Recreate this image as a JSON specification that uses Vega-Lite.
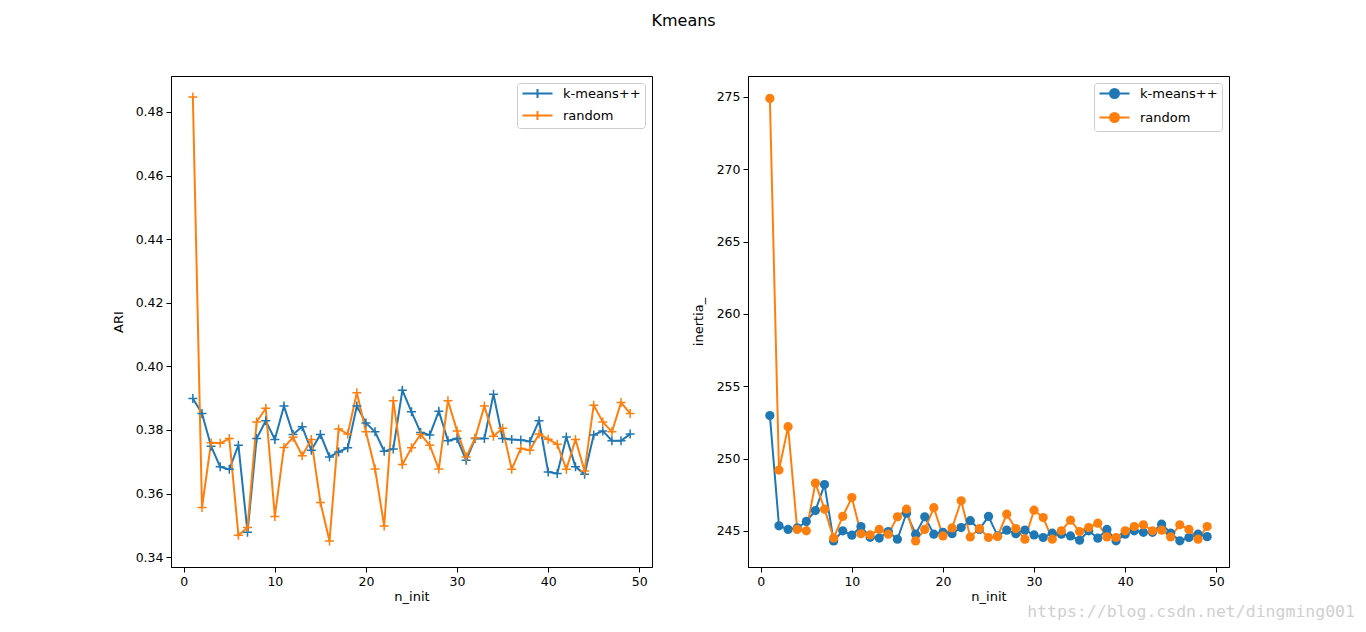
{
  "$schema": "https://vega.github.io/schema/vega-lite/v6.json",
  "title": {"text": "Kmeans", "fontSize": 16, "font": "DejaVu Sans", "fontWeight": "normal", "anchor": "middle", "offset": 47, "dx": -50, "color": "black"},
  "padding": {"left": 111, "top": 12, "right": 5, "bottom": 5},
  "spacing": 38,
  "background": "white",
  "datasets": {
    "km": [
      {"n":1,"method":"k-means++","ari":0.3899,"inertia":252.97},
      {"n":2,"method":"k-means++","ari":0.3852,"inertia":245.35},
      {"n":3,"method":"k-means++","ari":0.3749,"inertia":245.1},
      {"n":4,"method":"k-means++","ari":0.3684,"inertia":245.2},
      {"n":5,"method":"k-means++","ari":0.3676,"inertia":245.65},
      {"n":6,"method":"k-means++","ari":0.3752,"inertia":246.4},
      {"n":7,"method":"k-means++","ari":0.3478,"inertia":248.2},
      {"n":8,"method":"k-means++","ari":0.3773,"inertia":244.3},
      {"n":9,"method":"k-means++","ari":0.3829,"inertia":245.0},
      {"n":10,"method":"k-means++","ari":0.3770,"inertia":244.7},
      {"n":11,"method":"k-means++","ari":0.3875,"inertia":245.3},
      {"n":12,"method":"k-means++","ari":0.3786,"inertia":244.55},
      {"n":13,"method":"k-means++","ari":0.3810,"inertia":244.5},
      {"n":14,"method":"k-means++","ari":0.3736,"inertia":244.95},
      {"n":15,"method":"k-means++","ari":0.3786,"inertia":244.42},
      {"n":16,"method":"k-means++","ari":0.3715,"inertia":246.22},
      {"n":17,"method":"k-means++","ari":0.3731,"inertia":244.77},
      {"n":18,"method":"k-means++","ari":0.3744,"inertia":245.97},
      {"n":19,"method":"k-means++","ari":0.3875,"inertia":244.77},
      {"n":20,"method":"k-means++","ari":0.3822,"inertia":244.9},
      {"n":21,"method":"k-means++","ari":0.3794,"inertia":244.8},
      {"n":22,"method":"k-means++","ari":0.3733,"inertia":245.23},
      {"n":23,"method":"k-means++","ari":0.3740,"inertia":245.7},
      {"n":24,"method":"k-means++","ari":0.3925,"inertia":245.1},
      {"n":25,"method":"k-means++","ari":0.3857,"inertia":246.0},
      {"n":26,"method":"k-means++","ari":0.3792,"inertia":244.65},
      {"n":27,"method":"k-means++","ari":0.3784,"inertia":245.05},
      {"n":28,"method":"k-means++","ari":0.3859,"inertia":244.8},
      {"n":29,"method":"k-means++","ari":0.3766,"inertia":245.05},
      {"n":30,"method":"k-means++","ari":0.3773,"inertia":244.72},
      {"n":31,"method":"k-means++","ari":0.3705,"inertia":244.54},
      {"n":32,"method":"k-means++","ari":0.3773,"inertia":244.84},
      {"n":33,"method":"k-means++","ari":0.3773,"inertia":244.77},
      {"n":34,"method":"k-means++","ari":0.3912,"inertia":244.65},
      {"n":35,"method":"k-means++","ari":0.3773,"inertia":244.35},
      {"n":36,"method":"k-means++","ari":0.3770,"inertia":245.0},
      {"n":37,"method":"k-means++","ari":0.3768,"inertia":244.49},
      {"n":38,"method":"k-means++","ari":0.3764,"inertia":245.1},
      {"n":39,"method":"k-means++","ari":0.3829,"inertia":244.31},
      {"n":40,"method":"k-means++","ari":0.3668,"inertia":244.77},
      {"n":41,"method":"k-means++","ari":0.3663,"inertia":245.0},
      {"n":42,"method":"k-means++","ari":0.3778,"inertia":244.9},
      {"n":43,"method":"k-means++","ari":0.3684,"inertia":244.9},
      {"n":44,"method":"k-means++","ari":0.3661,"inertia":245.46},
      {"n":45,"method":"k-means++","ari":0.3784,"inertia":244.85},
      {"n":46,"method":"k-means++","ari":0.3797,"inertia":244.31},
      {"n":47,"method":"k-means++","ari":0.3766,"inertia":244.54},
      {"n":48,"method":"k-means++","ari":0.3766,"inertia":244.77},
      {"n":49,"method":"k-means++","ari":0.3787,"inertia":244.6},
      {"n":1,"method":"random","ari":0.4847,"inertia":274.9},
      {"n":2,"method":"random","ari":0.3556,"inertia":249.2},
      {"n":3,"method":"random","ari":0.3760,"inertia":252.2},
      {"n":4,"method":"random","ari":0.3758,"inertia":245.1},
      {"n":5,"method":"random","ari":0.3773,"inertia":245.0},
      {"n":6,"method":"random","ari":0.3469,"inertia":248.3},
      {"n":7,"method":"random","ari":0.3493,"inertia":246.5},
      {"n":8,"method":"random","ari":0.3825,"inertia":244.5},
      {"n":9,"method":"random","ari":0.3868,"inertia":246.0},
      {"n":10,"method":"random","ari":0.3528,"inertia":247.3},
      {"n":11,"method":"random","ari":0.3745,"inertia":244.8},
      {"n":12,"method":"random","ari":0.3777,"inertia":244.72},
      {"n":13,"method":"random","ari":0.3719,"inertia":245.1},
      {"n":14,"method":"random","ari":0.3770,"inertia":244.77},
      {"n":15,"method":"random","ari":0.3572,"inertia":245.97},
      {"n":16,"method":"random","ari":0.3451,"inertia":246.5},
      {"n":17,"method":"random","ari":0.3803,"inertia":244.3},
      {"n":18,"method":"random","ari":0.3787,"inertia":245.1},
      {"n":19,"method":"random","ari":0.3917,"inertia":246.6},
      {"n":20,"method":"random","ari":0.3794,"inertia":244.65},
      {"n":21,"method":"random","ari":0.3677,"inertia":245.2},
      {"n":22,"method":"random","ari":0.3498,"inertia":247.08},
      {"n":23,"method":"random","ari":0.3892,"inertia":244.58},
      {"n":24,"method":"random","ari":0.3691,"inertia":245.16},
      {"n":25,"method":"random","ari":0.3744,"inertia":244.54},
      {"n":26,"method":"random","ari":0.3786,"inertia":244.61},
      {"n":27,"method":"random","ari":0.3752,"inertia":246.15},
      {"n":28,"method":"random","ari":0.3677,"inertia":245.16},
      {"n":29,"method":"random","ari":0.3892,"inertia":244.42},
      {"n":30,"method":"random","ari":0.3797,"inertia":246.43},
      {"n":31,"method":"random","ari":0.3715,"inertia":245.92},
      {"n":32,"method":"random","ari":0.3775,"inertia":244.42},
      {"n":33,"method":"random","ari":0.3875,"inertia":245.0},
      {"n":34,"method":"random","ari":0.3780,"inertia":245.74},
      {"n":35,"method":"random","ari":0.3805,"inertia":244.95},
      {"n":36,"method":"random","ari":0.3676,"inertia":245.23},
      {"n":37,"method":"random","ari":0.3742,"inertia":245.53},
      {"n":38,"method":"random","ari":0.3736,"inertia":244.58},
      {"n":39,"method":"random","ari":0.3787,"inertia":244.54},
      {"n":40,"method":"random","ari":0.3771,"inertia":245.0},
      {"n":41,"method":"random","ari":0.3755,"inertia":245.3},
      {"n":42,"method":"random","ari":0.3676,"inertia":245.42},
      {"n":43,"method":"random","ari":0.3770,"inertia":245.0},
      {"n":44,"method":"random","ari":0.3671,"inertia":245.05},
      {"n":45,"method":"random","ari":0.3878,"inertia":244.58},
      {"n":46,"method":"random","ari":0.3825,"inertia":245.42},
      {"n":47,"method":"random","ari":0.3794,"inertia":245.1},
      {"n":48,"method":"random","ari":0.3886,"inertia":244.42},
      {"n":49,"method":"random","ari":0.3852,"inertia":245.3}
    ]
  },
  "resolve": {"scale": {"color": "independent"}, "legend": {"color": "independent"}},
  "hconcat": [
    {
      "width": 481,
      "height": 491,
      "data": {"name": "km"},
      "encoding": {
        "x": {"field": "n", "type": "quantitative", "scale": {"domain": [-1.4, 51.4], "nice": false, "zero": false}, "axis": {"values": [0, 10, 20, 30, 40, 50], "title": "n_init", "titlePadding": 3}},
        "y": {"field": "ari", "type": "quantitative", "scale": {"domain": [0.3369, 0.4913], "nice": false, "zero": false}, "axis": {"values": [0.34, 0.36, 0.38, 0.40, 0.42, 0.44, 0.46, 0.48], "format": ".2f", "title": "ARI", "titlePadding": 10}},
        "color": {"field": "method", "type": "nominal", "scale": {"domain": ["k-means++", "random"], "range": ["#1f77b4", "#ff7f0e"]},
          "legend": {"title": null, "orient": "top-right", "offset": 7, "symbolType": "M-1,0L5,0M2,-0.9L2,0.9", "symbolSize": 100, "symbolStrokeWidth": 2, "labelOffset": 29}}
      },
      "layer": [
        {"mark": {"type": "line", "strokeWidth": 2}},
        {"mark": {"type": "point", "shape": "M-1,0L1,0M0,-1L0,1", "filled": false, "size": 81, "strokeWidth": 1.5, "opacity": 1}}
      ]
    },
    {
      "width": 481,
      "height": 491,
      "data": {"name": "km"},
      "title": {"text": "https://blog.csdn.net/dingming001", "orient": "bottom", "anchor": "end", "dx": 126, "offset": 0, "font": "DejaVu Sans Mono", "fontSize": 16.5, "fontWeight": "normal", "color": "#d0d0d0"},
      "encoding": {
        "x": {"field": "n", "type": "quantitative", "scale": {"domain": [-1.4, 51.4], "nice": false, "zero": false}, "axis": {"values": [0, 10, 20, 30, 40, 50], "title": "n_init", "titlePadding": 3}},
        "y": {"field": "inertia", "type": "quantitative", "scale": {"domain": [242.5, 276.45], "nice": false, "zero": false}, "axis": {"values": [245, 250, 255, 260, 265, 270, 275], "title": "inertia_", "titlePadding": 11}},
        "color": {"field": "method", "type": "nominal", "scale": {"domain": ["k-means++", "random"], "range": ["#1f77b4", "#ff7f0e"]},
          "legend": {"title": null, "orient": "top-right", "offset": 7, "symbolType": "M-1,0L5,0M2.9,0A0.9,0.9,0,1,1,1.1,0A0.9,0.9,0,1,1,2.9,0Z", "symbolSize": 100, "symbolStrokeWidth": 2, "labelOffset": 29}}
      },
      "layer": [
        {"mark": {"type": "line", "strokeWidth": 2}},
        {"mark": {"type": "point", "shape": "circle", "filled": true, "size": 85, "opacity": 1}}
      ]
    }
  ],
  "config": {
    "font": "DejaVu Sans",
    "view": {"stroke": "black", "strokeWidth": 1},
    "axis": {"domainColor": "black", "tickColor": "black", "tickSize": 5, "labelFontSize": 12.5, "labelFont": "DejaVu Sans", "labelColor": "black", "titleFont": "DejaVu Sans", "titleFontSize": 13, "titleFontWeight": "normal", "titleColor": "black", "grid": false, "labelPadding": 3, "domainWidth": 1, "tickWidth": 1},
    "legend": {"labelFontSize": 13, "labelFont": "DejaVu Sans", "labelColor": "black", "strokeColor": "#cccccc", "fillColor": "white", "padding": 4, "cornerRadius": 3, "rowPadding": 5}
  }
}
